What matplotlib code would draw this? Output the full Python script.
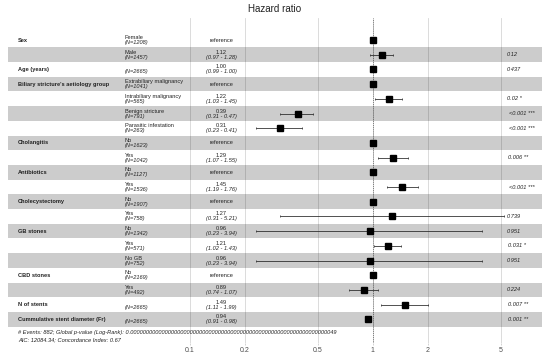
import numpy as np
import matplotlib
matplotlib.use('Agg')
import matplotlib.pyplot as plt
import matplotlib.transforms as mtransforms
from matplotlib.ticker import NullLocator

plt.rcParams['font.family'] = ['Liberation Sans', 'DejaVu Sans']

nan = np.nan

# one entry per row, top to bottom
variables = ['Sex', '', 'Age (years)', "Biliary stricture's aetiology group", '', '', '',
             'Cholangitis', '', 'Antibiotics', '', 'Cholecystectomy', '', 'GB stones', '', '',
             'CBD stones', '', 'N of stents', 'Cummulative stent diameter (Fr)']
levels = ['Female', 'Male', '', 'Extrabiliary malignancy', 'Intrabiliary malignancy',
          'Benign stricture', 'Parasitic infestation', 'No', 'Yes', 'No', 'Yes', 'No', 'Yes',
          'No', 'Yes', 'No GB', 'No', 'Yes', '', '']
n_obs = [1208, 1457, 2665, 1041, 565, 791, 263, 1623, 1042, 1127, 1536, 1907, 758,
         1342, 571, 752, 2169, 492, 2665, 2665]
hr = [1.0, 1.12, 1.00, 1.0, 1.22, 0.39, 0.31, 1.0, 1.29, 1.0, 1.45, 1.0, 1.27,
      0.96, 1.21, 0.96, 1.0, 0.89, 1.49, 0.94]
ci_low = [nan, 0.97, 0.99, nan, 1.03, 0.31, 0.23, nan, 1.07, nan, 1.19, nan, 0.31,
          0.23, 1.02, 0.23, nan, 0.74, 1.11, 0.91]
ci_high = [nan, 1.28, 1.00, nan, 1.45, 0.47, 0.41, nan, 1.55, nan, 1.76, nan, 5.21,
           3.94, 1.43, 3.94, nan, 1.07, 1.99, 0.98]
p_text = ['', '0.12', '0.437', '', '0.02 *', '<0.001 ***', '<0.001 ***', '', '0.006 **', '',
          '<0.001 ***', '', '0.739', '0.951', '0.031 *', '0.951', '', '0.224', '0.007 **',
          '0.001 **']
tick_vals = [0.1, 0.2, 0.5, 1, 2, 5]
tick_labels = ['0.1', '0.2', '0.5', '1', '2', '5']

n_events = 882
p_global = '0.000000000000000000000000000000000000000000000000000000000000000049'
aic = 12084.34
concordance = 0.67

W, H = 550, 358
fig = plt.figure(figsize=(W / 100, H / 100), dpi=100)
ax = fig.add_axes([7.5 / W, 1 - 343 / H, 534 / W, (343 - 18) / H])

rows = np.arange(1, len(variables) + 1)
hr = np.array(hr)
ci_low = np.array(ci_low)
ci_high = np.array(ci_high)

# x range like ggforest: room on the left for the text columns
lo, hi = np.log(np.nanmin(ci_low)), np.log(np.nanmax(ci_high))
d = hi - lo
ax.set_xscale('log')
ax.set_xlim(np.exp(lo - d), np.exp(hi + 0.15 * d))
ax.set_ylim(21.61, -0.497)

# alternating bands
for r in rows:
    if r % 2 == 0:
        ax.axhspan(r - 0.5, r + 0.5, color='black', alpha=0.2, lw=0, zorder=1)

ax.set_xticks(tick_vals)
ax.set_xticklabels(tick_labels)
ax.xaxis.set_minor_locator(NullLocator())
ax.set_yticks([])
ax.xaxis.grid(True, color='#d6d6d6', lw=0.6)
ax.set_axisbelow(True)
for s in ax.spines.values():
    s.set_visible(False)
ax.tick_params(axis='x', length=1.5, width=0.4, color='#b3b3b3', labelsize=5,
               labelcolor='#4d4d4d', pad=1.5)

ax.axvline(1, ls=(0, (1, 1.5)), color='#444444', lw=0.55, zorder=2)

# confidence intervals and points
has_ci = ~np.isnan(ci_low)
ax.errorbar(hr[has_ci], rows[has_ci],
            xerr=[hr[has_ci] - ci_low[has_ci], ci_high[has_ci] - hr[has_ci]],
            fmt='none', ecolor='#222222', elinewidth=0.55, capsize=0.8, capthick=0.5, zorder=3)
ax.plot(hr, rows, 's', color='black', ms=5, zorder=4)

# text columns
tr = mtransforms.blended_transform_factory(ax.transAxes, ax.transData)
fs = 4.1
tc = '#222222'
off = 0.17
p_objs = []
for i, r in enumerate(rows):
    ax.text(0.02, r, variables[i], transform=tr, fontsize=fs, fontweight='bold',
            ha='left', va='center', color=tc)
    ax.text(0.22, r - off, levels[i], transform=tr, fontsize=fs, ha='left', va='center', color=tc)
    ax.text(0.22, r + off, f'(N={n_obs[i]})', transform=tr, fontsize=fs, style='italic',
            ha='left', va='center', color=tc)
    if has_ci[i]:
        ax.text(0.40, r - off, f'{hr[i]:.2f}', transform=tr, fontsize=fs, ha='center',
                va='center', color=tc)
        ax.text(0.40, r + off, f'({ci_low[i]:.2f} - {ci_high[i]:.2f})', transform=tr,
                fontsize=fs, style='italic', ha='center', va='center', color=tc)
    else:
        ax.text(0.40, r, 'reference', transform=tr, fontsize=fs, ha='center', va='center', color=tc)
    if p_text[i]:
        p_objs.append(ax.text(np.exp(hi), r, p_text[i], fontsize=fs, style='italic',
                              ha='left', va='center', color=tc))

ax.text(0.02, 20.9, f'# Events: {n_events}; Global p-value (Log-Rank): {p_global}',
        transform=tr, fontsize=fs, style='italic', ha='left', va='center', color=tc)
ax.text(0.02, 21.41, f'AIC: {aic}; Concordance Index: {concordance}',
        transform=tr, fontsize=fs, style='italic', ha='left', va='center', color=tc)

fig.text(274.5 / W, 1 - 9.5 / H, 'Hazard ratio', ha='center', va='center', fontsize=7.1,
         color='#222222')

# hjust = -0.2 for the p-value column
fig.canvas.draw()
for t in p_objs:
    w = t.get_window_extent().width
    t.set_transform(mtransforms.offset_copy(t.get_transform(), fig=fig, x=0.2 * w, units='dots'))

fig.savefig('out.png', dpi=100)
plt.close(fig)
